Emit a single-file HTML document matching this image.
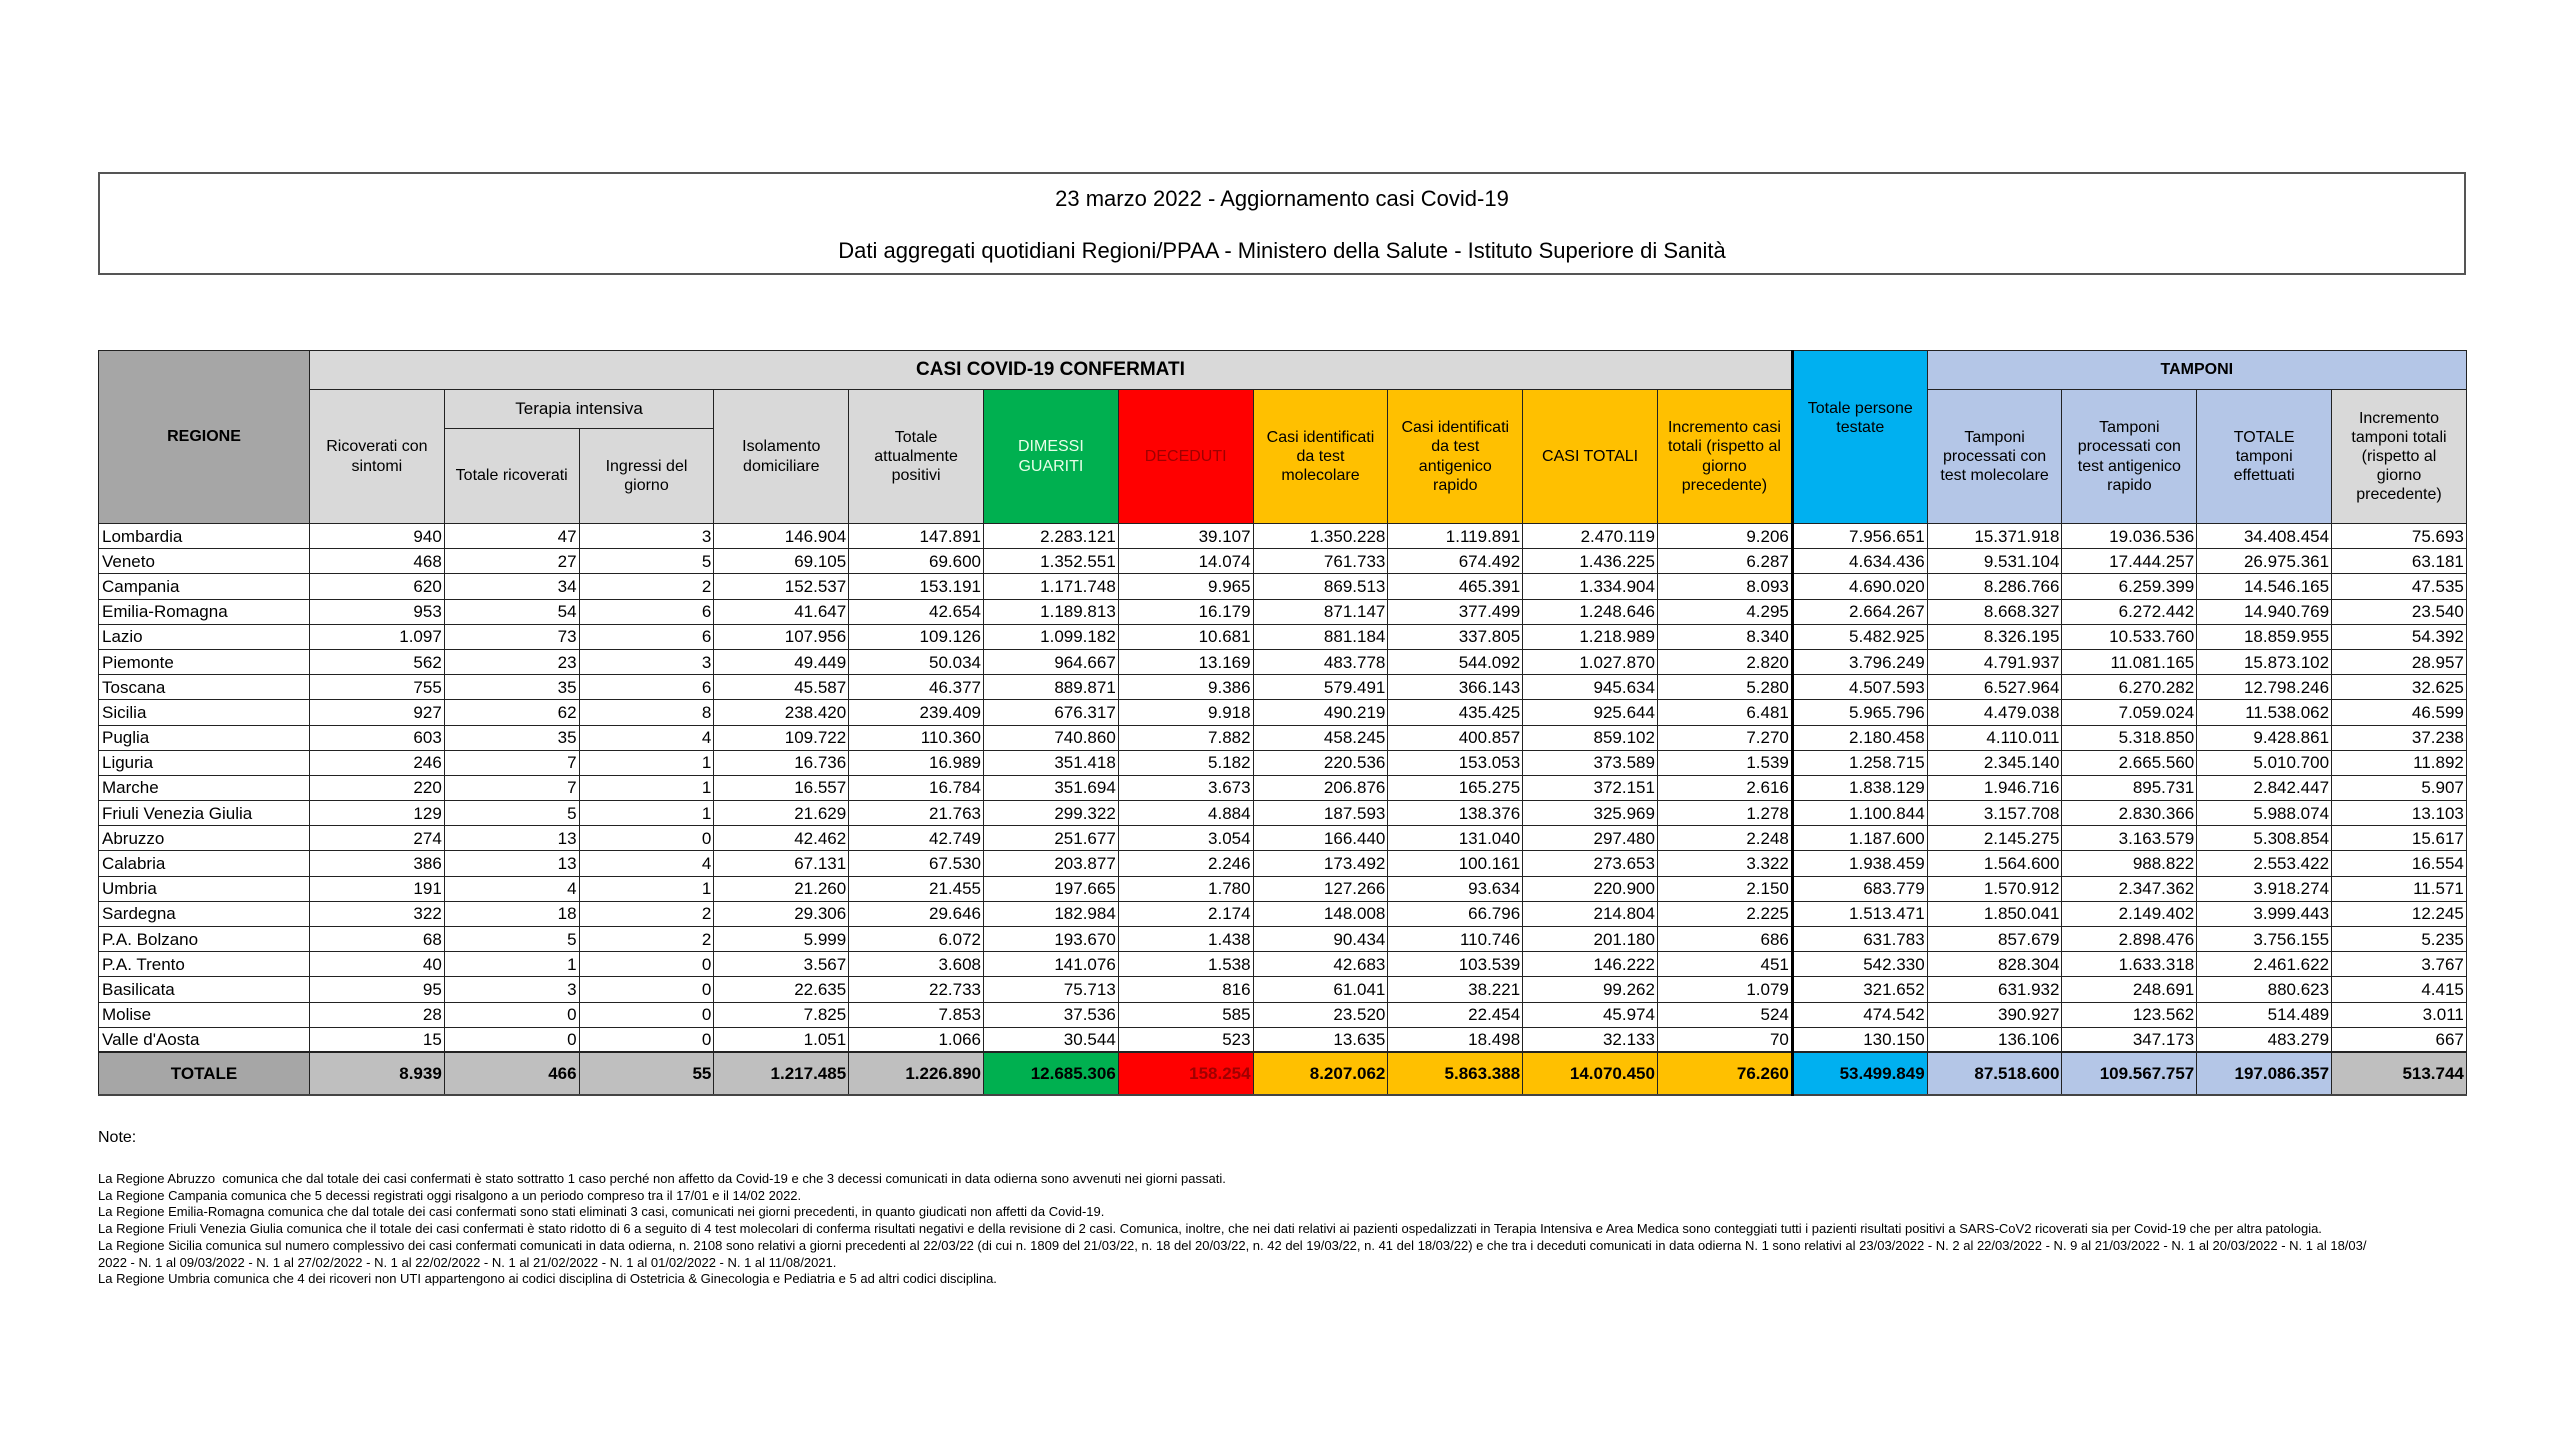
<!DOCTYPE html>
<html><head><meta charset="utf-8"><style>
*{margin:0;padding:0;box-sizing:border-box}
body{width:2560px;height:1440px;background:#fff;font-family:"Liberation Sans",sans-serif;color:#000;position:relative;overflow:hidden}
.title{position:absolute;left:98px;top:172px;width:2368px;height:103px;border:2px solid #555;text-align:center;font-size:22px}
.title div{position:absolute;left:0;width:100%}
table{position:absolute;left:98px;top:350px;width:2368px;border-collapse:collapse;table-layout:fixed}
td{border:1px solid #222;font-size:17px;overflow:hidden;white-space:nowrap;padding:0 2px;line-height:1}
td.n{text-align:right}
tr.d td{height:25.2px}
tr.d td:first-child{text-align:left;padding-left:3px}
.hd td{text-align:center;white-space:normal;font-size:16px;line-height:1.2;background:#d9d9d9;padding:0 6px}
.g{background:#00b050!important;color:#e8ffe8}
.r{background:#ff0000!important;color:#a00000}
.y{background:#ffc000!important}
.b{background:#00b0f0!important}
.t{background:#b4c6e7!important}
.gr{background:#a6a6a6!important}
.tk{border-left:3px solid #000!important}
tr.tot td{height:43px;background:#bfbfbf;font-weight:bold;font-size:17px;border-top:2px solid #222;border-bottom:2px solid #444}
.notes{position:absolute;left:98px;top:1128px;font-size:13px;line-height:16.7px;white-space:nowrap}
</style></head><body>
<div class="title"><div style="top:12px">23 marzo 2022 - Aggiornamento casi Covid-19</div><div style="top:64px">Dati aggregati quotidiani Regioni/PPAA - Ministero della Salute - Istituto Superiore di Sanità</div></div>
<table>
<colgroup><col style="width:211px"><col span="16" style="width:134.8px"></colgroup>
<tr class="hd" style="height:39px"><td rowspan="3" class="gr"><b>REGIONE</b></td><td colspan="11" style="font-size:19px"><b>CASI COVID-19 CONFERMATI</b></td><td rowspan="3" class="b tk">Totale persone testate<br><br><br></td><td colspan="4" class="t"><b>TAMPONI</b></td></tr>
<tr class="hd" style="height:39px"><td rowspan="2">Ricoverati con sintomi</td><td colspan="2" style="font-size:17px">Terapia intensiva</td><td rowspan="2">Isolamento domiciliare</td><td rowspan="2">Totale attualmente positivi</td><td rowspan="2" class="g">DIMESSI GUARITI</td><td rowspan="2" class="r">DECEDUTI</td><td rowspan="2" class="y">Casi identificati da test molecolare</td><td rowspan="2" class="y">Casi identificati da test antigenico rapido</td><td rowspan="2" class="y">CASI TOTALI</td><td rowspan="2" class="y">Incremento casi totali (rispetto al giorno precedente)</td><td rowspan="2" class="t">Tamponi processati con test molecolare</td><td rowspan="2" class="t">Tamponi processati con test antigenico rapido</td><td rowspan="2" class="t">TOTALE tamponi effettuati</td><td rowspan="2">Incremento tamponi totali (rispetto al giorno precedente)</td></tr>
<tr class="hd" style="height:95px"><td style="padding:0 2px">Totale ricoverati</td><td>Ingressi del giorno</td></tr>
<tr class="d"><td>Lombardia</td><td class="n">940</td><td class="n">47</td><td class="n">3</td><td class="n">146.904</td><td class="n">147.891</td><td class="n">2.283.121</td><td class="n">39.107</td><td class="n">1.350.228</td><td class="n">1.119.891</td><td class="n">2.470.119</td><td class="n">9.206</td><td class="n tk">7.956.651</td><td class="n">15.371.918</td><td class="n">19.036.536</td><td class="n">34.408.454</td><td class="n">75.693</td></tr>
<tr class="d"><td>Veneto</td><td class="n">468</td><td class="n">27</td><td class="n">5</td><td class="n">69.105</td><td class="n">69.600</td><td class="n">1.352.551</td><td class="n">14.074</td><td class="n">761.733</td><td class="n">674.492</td><td class="n">1.436.225</td><td class="n">6.287</td><td class="n tk">4.634.436</td><td class="n">9.531.104</td><td class="n">17.444.257</td><td class="n">26.975.361</td><td class="n">63.181</td></tr>
<tr class="d"><td>Campania</td><td class="n">620</td><td class="n">34</td><td class="n">2</td><td class="n">152.537</td><td class="n">153.191</td><td class="n">1.171.748</td><td class="n">9.965</td><td class="n">869.513</td><td class="n">465.391</td><td class="n">1.334.904</td><td class="n">8.093</td><td class="n tk">4.690.020</td><td class="n">8.286.766</td><td class="n">6.259.399</td><td class="n">14.546.165</td><td class="n">47.535</td></tr>
<tr class="d"><td>Emilia-Romagna</td><td class="n">953</td><td class="n">54</td><td class="n">6</td><td class="n">41.647</td><td class="n">42.654</td><td class="n">1.189.813</td><td class="n">16.179</td><td class="n">871.147</td><td class="n">377.499</td><td class="n">1.248.646</td><td class="n">4.295</td><td class="n tk">2.664.267</td><td class="n">8.668.327</td><td class="n">6.272.442</td><td class="n">14.940.769</td><td class="n">23.540</td></tr>
<tr class="d"><td>Lazio</td><td class="n">1.097</td><td class="n">73</td><td class="n">6</td><td class="n">107.956</td><td class="n">109.126</td><td class="n">1.099.182</td><td class="n">10.681</td><td class="n">881.184</td><td class="n">337.805</td><td class="n">1.218.989</td><td class="n">8.340</td><td class="n tk">5.482.925</td><td class="n">8.326.195</td><td class="n">10.533.760</td><td class="n">18.859.955</td><td class="n">54.392</td></tr>
<tr class="d"><td>Piemonte</td><td class="n">562</td><td class="n">23</td><td class="n">3</td><td class="n">49.449</td><td class="n">50.034</td><td class="n">964.667</td><td class="n">13.169</td><td class="n">483.778</td><td class="n">544.092</td><td class="n">1.027.870</td><td class="n">2.820</td><td class="n tk">3.796.249</td><td class="n">4.791.937</td><td class="n">11.081.165</td><td class="n">15.873.102</td><td class="n">28.957</td></tr>
<tr class="d"><td>Toscana</td><td class="n">755</td><td class="n">35</td><td class="n">6</td><td class="n">45.587</td><td class="n">46.377</td><td class="n">889.871</td><td class="n">9.386</td><td class="n">579.491</td><td class="n">366.143</td><td class="n">945.634</td><td class="n">5.280</td><td class="n tk">4.507.593</td><td class="n">6.527.964</td><td class="n">6.270.282</td><td class="n">12.798.246</td><td class="n">32.625</td></tr>
<tr class="d"><td>Sicilia</td><td class="n">927</td><td class="n">62</td><td class="n">8</td><td class="n">238.420</td><td class="n">239.409</td><td class="n">676.317</td><td class="n">9.918</td><td class="n">490.219</td><td class="n">435.425</td><td class="n">925.644</td><td class="n">6.481</td><td class="n tk">5.965.796</td><td class="n">4.479.038</td><td class="n">7.059.024</td><td class="n">11.538.062</td><td class="n">46.599</td></tr>
<tr class="d"><td>Puglia</td><td class="n">603</td><td class="n">35</td><td class="n">4</td><td class="n">109.722</td><td class="n">110.360</td><td class="n">740.860</td><td class="n">7.882</td><td class="n">458.245</td><td class="n">400.857</td><td class="n">859.102</td><td class="n">7.270</td><td class="n tk">2.180.458</td><td class="n">4.110.011</td><td class="n">5.318.850</td><td class="n">9.428.861</td><td class="n">37.238</td></tr>
<tr class="d"><td>Liguria</td><td class="n">246</td><td class="n">7</td><td class="n">1</td><td class="n">16.736</td><td class="n">16.989</td><td class="n">351.418</td><td class="n">5.182</td><td class="n">220.536</td><td class="n">153.053</td><td class="n">373.589</td><td class="n">1.539</td><td class="n tk">1.258.715</td><td class="n">2.345.140</td><td class="n">2.665.560</td><td class="n">5.010.700</td><td class="n">11.892</td></tr>
<tr class="d"><td>Marche</td><td class="n">220</td><td class="n">7</td><td class="n">1</td><td class="n">16.557</td><td class="n">16.784</td><td class="n">351.694</td><td class="n">3.673</td><td class="n">206.876</td><td class="n">165.275</td><td class="n">372.151</td><td class="n">2.616</td><td class="n tk">1.838.129</td><td class="n">1.946.716</td><td class="n">895.731</td><td class="n">2.842.447</td><td class="n">5.907</td></tr>
<tr class="d"><td>Friuli Venezia Giulia</td><td class="n">129</td><td class="n">5</td><td class="n">1</td><td class="n">21.629</td><td class="n">21.763</td><td class="n">299.322</td><td class="n">4.884</td><td class="n">187.593</td><td class="n">138.376</td><td class="n">325.969</td><td class="n">1.278</td><td class="n tk">1.100.844</td><td class="n">3.157.708</td><td class="n">2.830.366</td><td class="n">5.988.074</td><td class="n">13.103</td></tr>
<tr class="d"><td>Abruzzo</td><td class="n">274</td><td class="n">13</td><td class="n">0</td><td class="n">42.462</td><td class="n">42.749</td><td class="n">251.677</td><td class="n">3.054</td><td class="n">166.440</td><td class="n">131.040</td><td class="n">297.480</td><td class="n">2.248</td><td class="n tk">1.187.600</td><td class="n">2.145.275</td><td class="n">3.163.579</td><td class="n">5.308.854</td><td class="n">15.617</td></tr>
<tr class="d"><td>Calabria</td><td class="n">386</td><td class="n">13</td><td class="n">4</td><td class="n">67.131</td><td class="n">67.530</td><td class="n">203.877</td><td class="n">2.246</td><td class="n">173.492</td><td class="n">100.161</td><td class="n">273.653</td><td class="n">3.322</td><td class="n tk">1.938.459</td><td class="n">1.564.600</td><td class="n">988.822</td><td class="n">2.553.422</td><td class="n">16.554</td></tr>
<tr class="d"><td>Umbria</td><td class="n">191</td><td class="n">4</td><td class="n">1</td><td class="n">21.260</td><td class="n">21.455</td><td class="n">197.665</td><td class="n">1.780</td><td class="n">127.266</td><td class="n">93.634</td><td class="n">220.900</td><td class="n">2.150</td><td class="n tk">683.779</td><td class="n">1.570.912</td><td class="n">2.347.362</td><td class="n">3.918.274</td><td class="n">11.571</td></tr>
<tr class="d"><td>Sardegna</td><td class="n">322</td><td class="n">18</td><td class="n">2</td><td class="n">29.306</td><td class="n">29.646</td><td class="n">182.984</td><td class="n">2.174</td><td class="n">148.008</td><td class="n">66.796</td><td class="n">214.804</td><td class="n">2.225</td><td class="n tk">1.513.471</td><td class="n">1.850.041</td><td class="n">2.149.402</td><td class="n">3.999.443</td><td class="n">12.245</td></tr>
<tr class="d"><td>P.A. Bolzano</td><td class="n">68</td><td class="n">5</td><td class="n">2</td><td class="n">5.999</td><td class="n">6.072</td><td class="n">193.670</td><td class="n">1.438</td><td class="n">90.434</td><td class="n">110.746</td><td class="n">201.180</td><td class="n">686</td><td class="n tk">631.783</td><td class="n">857.679</td><td class="n">2.898.476</td><td class="n">3.756.155</td><td class="n">5.235</td></tr>
<tr class="d"><td>P.A. Trento</td><td class="n">40</td><td class="n">1</td><td class="n">0</td><td class="n">3.567</td><td class="n">3.608</td><td class="n">141.076</td><td class="n">1.538</td><td class="n">42.683</td><td class="n">103.539</td><td class="n">146.222</td><td class="n">451</td><td class="n tk">542.330</td><td class="n">828.304</td><td class="n">1.633.318</td><td class="n">2.461.622</td><td class="n">3.767</td></tr>
<tr class="d"><td>Basilicata</td><td class="n">95</td><td class="n">3</td><td class="n">0</td><td class="n">22.635</td><td class="n">22.733</td><td class="n">75.713</td><td class="n">816</td><td class="n">61.041</td><td class="n">38.221</td><td class="n">99.262</td><td class="n">1.079</td><td class="n tk">321.652</td><td class="n">631.932</td><td class="n">248.691</td><td class="n">880.623</td><td class="n">4.415</td></tr>
<tr class="d"><td>Molise</td><td class="n">28</td><td class="n">0</td><td class="n">0</td><td class="n">7.825</td><td class="n">7.853</td><td class="n">37.536</td><td class="n">585</td><td class="n">23.520</td><td class="n">22.454</td><td class="n">45.974</td><td class="n">524</td><td class="n tk">474.542</td><td class="n">390.927</td><td class="n">123.562</td><td class="n">514.489</td><td class="n">3.011</td></tr>
<tr class="d"><td>Valle d'Aosta</td><td class="n">15</td><td class="n">0</td><td class="n">0</td><td class="n">1.051</td><td class="n">1.066</td><td class="n">30.544</td><td class="n">523</td><td class="n">13.635</td><td class="n">18.498</td><td class="n">32.133</td><td class="n">70</td><td class="n tk">130.150</td><td class="n">136.106</td><td class="n">347.173</td><td class="n">483.279</td><td class="n">667</td></tr>
<tr class="tot"><td class="gr" style="text-align:center">TOTALE</td><td class="n">8.939</td><td class="n">466</td><td class="n">55</td><td class="n">1.217.485</td><td class="n">1.226.890</td><td class="n g" style="color:#000">12.685.306</td><td class="n r">158.254</td><td class="n y">8.207.062</td><td class="n y">5.863.388</td><td class="n y">14.070.450</td><td class="n y">76.260</td><td class="n b tk">53.499.849</td><td class="n t">87.518.600</td><td class="n t">109.567.757</td><td class="n t">197.086.357</td><td class="n">513.744</td></tr>
</table>
<div style="position:absolute;left:98px;top:1129px;font-size:16px">Note:</div>
<div class="notes" style="top:1171px">
La Regione Abruzzo&nbsp; comunica che dal totale dei casi confermati è stato sottratto 1 caso perché non affetto da Covid-19 e che 3 decessi comunicati in data odierna sono avvenuti nei giorni passati.<br>
La Regione Campania comunica che 5 decessi registrati oggi risalgono a un periodo compreso tra il 17/01 e il 14/02 2022.<br>
La Regione Emilia-Romagna comunica che dal totale dei casi confermati sono stati eliminati 3 casi, comunicati nei giorni precedenti, in quanto giudicati non affetti da Covid-19.<br>
La Regione Friuli Venezia Giulia comunica che il totale dei casi confermati è stato ridotto di 6 a seguito di 4 test molecolari di conferma risultati negativi e della revisione di 2 casi. Comunica, inoltre, che nei dati relativi ai pazienti ospedalizzati in Terapia Intensiva e Area Medica sono conteggiati tutti i pazienti risultati positivi a SARS-CoV2 ricoverati sia per Covid-19 che per altra patologia.<br>
La Regione Sicilia comunica sul numero complessivo dei casi confermati comunicati in data odierna, n. 2108 sono relativi a giorni precedenti al 22/03/22 (di cui n. 1809 del 21/03/22, n. 18 del 20/03/22, n. 42 del 19/03/22, n. 41 del 18/03/22) e che tra i deceduti comunicati in data odierna N. 1 sono relativi al 23/03/2022 - N. 2 al 22/03/2022 - N. 9 al 21/03/2022 - N. 1 al 20/03/2022 - N. 1 al 18/03/<br>
2022 - N. 1 al 09/03/2022 - N. 1 al 27/02/2022 - N. 1 al 22/02/2022 - N. 1 al 21/02/2022 - N. 1 al 01/02/2022 - N. 1 al 11/08/2021.<br>
La Regione Umbria comunica che 4 dei ricoveri non UTI appartengono ai codici disciplina di Ostetricia &amp; Ginecologia e Pediatria e 5 ad altri codici disciplina.
</div>
</body></html>
